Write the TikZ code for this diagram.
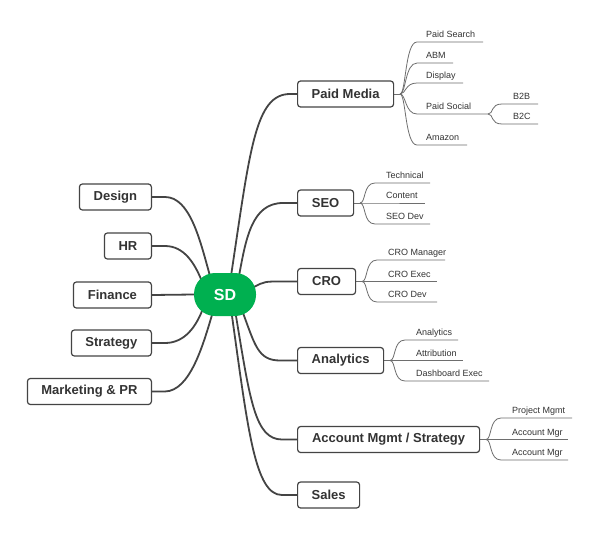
\documentclass[tikz,border=0pt]{standalone}
\usepackage{fontspec}
\setmainfont{Liberation Sans}
\definecolor{linec}{HTML}{444444}
\definecolor{thinc}{HTML}{6E6E6E}
\definecolor{textc}{HTML}{333333}
\definecolor{sdgreen}{HTML}{00B050}
\pgfdeclarelayer{paper}
\pgfdeclarelayer{background}
\pgfsetlayers{paper,background,main}
\newcommand\mmchild[7]{%
  \coordinate (#1a) at (#4,#3);
  \coordinate (#1b) at (#5,#3);
  \begin{pgfonlayer}{background}
  \draw[childline] (#2) .. controls +(6,0) and +(-12,0) .. (#1a) -- (#1b);
  \end{pgfonlayer}
  \node[childtext] (#1) at (#6,#3-4.5) {#7};
}
\begin{document}
\begin{tikzpicture}[x=1pt,y=-1pt,
  mainbox/.style={draw=linec, line width=1.2pt, rounded corners=3pt, fill=white,
    font=\fontsize{13}{15}\selectfont\bfseries, text=textc, minimum height=26pt, inner sep=0pt},
  mainline/.style={draw=linec, line width=1.8pt},
  childline/.style={draw=thinc, line width=0.8pt},
  childtext/.style={anchor=base west, inner sep=0pt, text=textc, font=\fontsize{9}{11}\selectfont}]
\begin{pgfonlayer}{paper}
\fill[white] (0,0) rectangle (600,536);
\end{pgfonlayer}
\useasboundingbox (0,0) rectangle (600,536);

% central node
\node[fill=sdgreen, rounded corners=21pt, minimum width=62pt, minimum height=43pt, inner sep=0pt,
  text=white, font=\fontsize{16}{18}\selectfont\bfseries] (sd) at (225,294.5) {SD};

% right main nodes
\node[mainbox, minimum width=96pt, anchor=west] (pm) at (297,94) {Paid Media};
\node[mainbox, minimum width=56pt, anchor=west] (seo) at (297,203) {SEO};
\node[mainbox, minimum width=58pt, anchor=west] (cro) at (297,281.5) {CRO};
\node[mainbox, minimum width=86pt, anchor=west] (an) at (297,360.5) {Analytics};
\node[mainbox, minimum width=182pt, anchor=west] (am) at (297,439.5) {Account Mgmt / Strategy};
\node[mainbox, minimum width=62pt, anchor=west] (sales) at (297,495) {Sales};

% left main nodes
\node[mainbox, minimum width=72pt, anchor=east] (design) at (152,197) {Design};
\node[mainbox, minimum width=47pt, anchor=east] (hr) at (152,246) {HR};
\node[mainbox, minimum width=78pt, anchor=east] (fin) at (152,295) {Finance};
\node[mainbox, minimum width=80pt, anchor=east] (strat) at (152,343) {Strategy};
\node[mainbox, minimum width=124pt, anchor=east] (mkt) at (152,391.5) {Marketing \& PR};

% SD-side connector points
\coordinate (cDesign) at (210,276);
\coordinate (cHR) at (201,279);
\coordinate (cStrat) at (202,311);
\coordinate (cMkt) at (212,315);
\coordinate (cPM) at (231,276);
\coordinate (cSEO) at (239,276);
\coordinate (cCRO) at (254,287);
\coordinate (cAn) at (243,313);
\coordinate (cAm) at (236,316);
\coordinate (cSales) at (232,316);

\begin{pgfonlayer}{background}
\draw[mainline] (design.east) -- ++(13,0) .. controls (190,197) and (200,240) .. (cDesign);
\draw[mainline] (hr.east) -- ++(13,0) .. controls (185,246) and (195,265) .. (cHR);
\draw[mainline] (fin.east) -- (sd.west);
\draw[mainline] (strat.east) -- ++(13,0) .. controls (185,343) and (196,326) .. (cStrat);
\draw[mainline] (mkt.east) -- ++(13,0) .. controls (190,391) and (203,345) .. (cMkt);

\draw[mainline] (cPM) .. controls (250,150) and (255,94) .. (290,94) -- (pm.west);
\draw[mainline] (cSEO) .. controls (246,238) and (252,203) .. (283,203) -- (seo.west);
\draw[mainline] (cCRO) .. controls (264,281.5) and (266,281.5) .. (280,281.5) -- (cro.west);
\draw[mainline] (cAn) .. controls (255,345) and (258,360.5) .. (280,360.5) -- (an.west);
\draw[mainline] (cAm) .. controls (250,400) and (255,439.5) .. (282,439.5) -- (am.west);
\draw[mainline] (cSales) .. controls (248,430) and (255,495) .. (282,495) -- (sales.west);
\end{pgfonlayer}

% stubs
\coordinate (pmS) at (400,94);
\coordinate (seoS) at (360,203);
\coordinate (croS) at (362,281.5);
\coordinate (anS) at (390,360.5);
\coordinate (amS) at (486,439.5);
\begin{pgfonlayer}{background}
\draw[childline] (pm.east) -- (pmS);
\draw[childline] (seo.east) -- (seoS);
\draw[childline] (cro.east) -- (croS);
\draw[childline] (an.east) -- (anS);
\draw[childline] (am.east) -- (amS);
\end{pgfonlayer}

% Paid Media children
\mmchild{ps}{pmS}{42}{417}{483}{426}{Paid Search}
\mmchild{abm}{pmS}{63}{417}{453}{426}{ABM}
\mmchild{disp}{pmS}{83}{417}{463}{426}{Display}
\mmchild{psoc}{pmS}{114}{417}{488}{426}{Paid Social}
\mmchild{amz}{pmS}{145}{417}{467}{426}{Amazon}
% Paid Social children
\mmchild{btb}{psocb}{104}{502}{538}{513}{B2B}
\mmchild{btc}{psocb}{124}{502}{538}{513}{B2C}

% SEO children
\mmchild{tech}{seoS}{183}{375}{430}{386}{Technical}
\mmchild{cont}{seoS}{203}{375}{425}{386}{Content}
\mmchild{seod}{seoS}{224}{375}{430}{386}{SEO Dev}

% CRO children
\mmchild{crom}{croS}{260}{377}{445}{388}{CRO Manager}
\mmchild{croe}{croS}{281.5}{377}{437}{388}{CRO Exec}
\mmchild{crod}{croS}{302}{377}{437}{388}{CRO Dev}

% Analytics children
\mmchild{ana}{anS}{340}{405}{458}{416}{Analytics}
\mmchild{attr}{anS}{360.5}{405}{463}{416}{Attribution}
\mmchild{dash}{anS}{381}{405}{489}{416}{Dashboard Exec}

% Account children
\mmchild{proj}{amS}{418}{501}{572}{512}{Project Mgmt}
\mmchild{acc}{amS}{439.5}{501}{568}{512}{Account Mgr}
\mmchild{accb}{amS}{460}{501}{568}{512}{Account Mgr}
\end{tikzpicture}
\end{document}
